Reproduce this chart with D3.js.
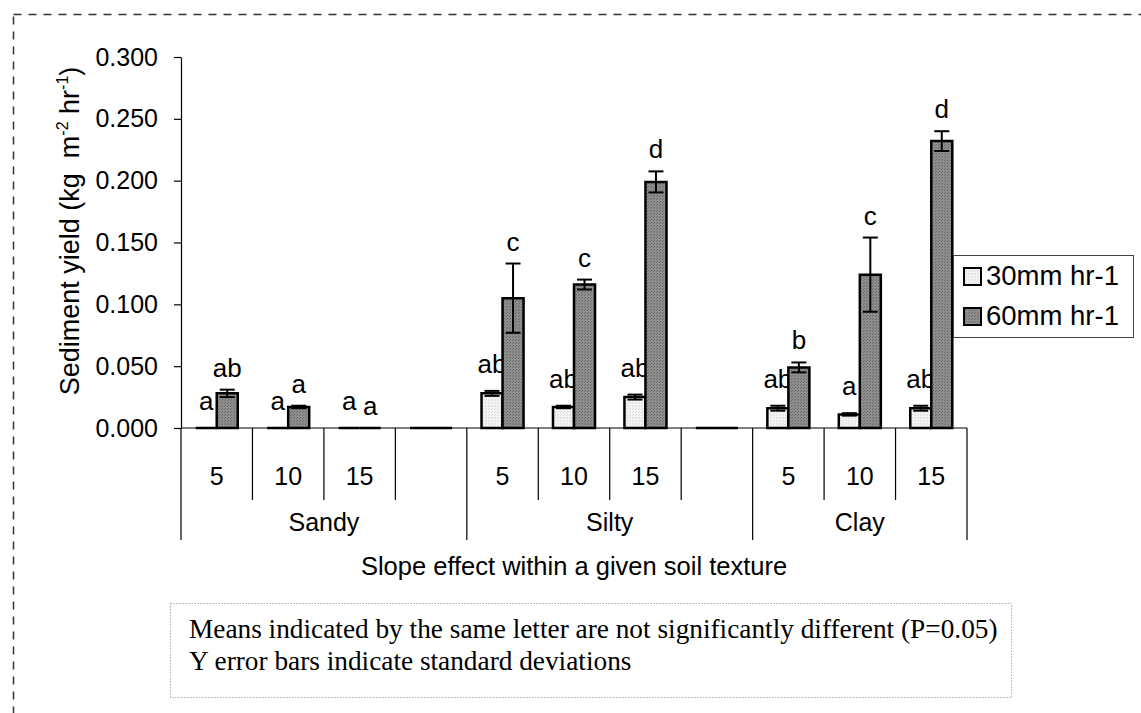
<!DOCTYPE html>
<html>
<head>
<meta charset="utf-8">
<script src="https://cdn.jsdelivr.net/npm/d3@7/dist/d3.min.js"></script>
<style>
  html, body { margin: 0; padding: 0; background: #fff; }
  svg { display: block; }
</style>
</head>
<body>
<svg id="chart" width="1141" height="713"></svg>
<script>
// ---------- data ----------
const textures   = ["Sandy", "Silty", "Clay"];
const textureOf  = ["Sandy","Sandy","Sandy","Sandy","Silty","Silty","Silty","Silty","Clay","Clay","Clay"];
const slopeLabels = ["5","10","15","","5","10","15","","5","10","15"];
const seriesNames = ["30mm hr-1", "60mm hr-1"];
const rain30   = [0, 0, 0, 0, 0.028, 0.017, 0.025, 0, 0.016, 0.011, 0.016];
const sd30     = [0, 0, 0, 0, 0.002, 0.001, 0.002, 0, 0.002, 0.001, 0.002];
const rain60   = [0.028, 0.017, 0, 0, 0.105, 0.116, 0.199, 0, 0.049, 0.124, 0.232];
const sd60     = [0.003, 0.001, 0, 0, 0.028, 0.004, 0.0085, 0, 0.004, 0.030, 0.008];
const letters30 = ["a","a","a","","ab","ab","ab","","ab","a","ab"];
const letters60 = ["ab","a","a","","c","c","d","","b","c","d"];
const yTicks = [0, 0.05, 0.10, 0.15, 0.20, 0.25, 0.30];
const footnotes = [
  "Means indicated by the same letter are not significantly different (P=0.05)",
  "Y error bars indicate standard deviations"
];

(function () {
// ---------- layout ----------
const svg = d3.select("#chart");
const pLeft = 181, pRight = 967, pTop = 57, pBottom = 428;
const FONT = "'Liberation Sans', Arial, sans-serif";

// patterns
const defs = svg.append("defs");
function dotPattern(id, base, dot) {
  const p = defs.append("pattern").attr("id", id).attr("patternUnits", "userSpaceOnUse")
    .attr("width", 3).attr("height", 3);
  p.append("rect").attr("width", 3).attr("height", 3).attr("fill", base);
  p.append("rect").attr("x", 0).attr("y", 0).attr("width", 1).attr("height", 1).attr("fill", dot);
  p.append("rect").attr("x", 2).attr("y", 1).attr("width", 1).attr("height", 1).attr("fill", dot);
}
dotPattern("pWhite", "#f4f4f4", "#d8d8d8");
dotPattern("pGray", "#8e8e8e", "#6a6a6a");
const fills = ["url(#pWhite)", "url(#pGray)"];

// outer dashed frame
svg.append("rect").attr("x", 13.5).attr("y", 14.5).attr("width", 1200).attr("height", 800)
  .attr("fill", "none").attr("stroke", "#333").attr("stroke-width", 1.5)
  .attr("stroke-dasharray", "8,7");

const x0 = d3.scaleBand().domain(d3.range(slopeLabels.length)).range([pLeft, pRight]).paddingInner(0).paddingOuter(0);
const x1 = d3.scaleBand().domain([0, 1]).range([0, x0.bandwidth()]).paddingInner(0).paddingOuter(0.7);
const y = d3.scaleLinear().domain([0, 0.3]).range([pBottom, pTop]);

// y axis
const yAxis = svg.append("g").attr("transform", `translate(${pLeft},0)`)
  .call(d3.axisLeft(y).tickValues(yTicks).tickFormat(d3.format(".3f")).tickSize(7).tickSizeOuter(0).tickPadding(16));
yAxis.select(".domain").attr("stroke", "#000").attr("stroke-width", 1.2);
yAxis.selectAll(".tick line").attr("stroke", "#000").attr("stroke-width", 1.2);
yAxis.selectAll(".tick text").attr("font-family", FONT).attr("font-size", 25).attr("fill", "#000");

// x axis line
svg.append("line").attr("x1", pLeft).attr("x2", pRight).attr("y1", pBottom).attr("y2", pBottom)
  .attr("stroke", "#000").attr("stroke-width", 1.2);

// category separators
const n = slopeLabels.length;
const groupStarts = d3.range(n).filter(i => i === 0 || textureOf[i] !== textureOf[i - 1]);
svg.append("g").selectAll("line").data(d3.range(n + 1)).join("line")
  .attr("x1", i => i < n ? x0(i) : pRight)
  .attr("x2", i => i < n ? x0(i) : pRight)
  .attr("y1", pBottom)
  .attr("y2", i => (groupStarts.includes(i) || i === n) ? 540 : 500)
  .attr("stroke", "#000").attr("stroke-width", 1.2);

// slope labels
svg.append("g").selectAll("text").data(slopeLabels).join("text")
  .attr("x", (d, i) => x0(i) + x0.bandwidth() / 2).attr("y", 485)
  .attr("text-anchor", "middle").attr("font-family", FONT).attr("font-size", 25)
  .text(d => d);

// texture labels
svg.append("g").selectAll("text").data(textures).join("text")
  .attr("x", t => {
    const idx = d3.range(n).filter(i => textureOf[i] === t);
    return (x0(idx[0]) + x0(idx[idx.length - 1]) + x0.bandwidth()) / 2;
  })
  .attr("y", 531).attr("text-anchor", "middle").attr("font-family", FONT).attr("font-size", 25)
  .text(t => t);

// x title
svg.append("text").attr("x", (pLeft + pRight) / 2).attr("y", 575).attr("text-anchor", "middle")
  .attr("font-family", FONT).attr("font-size", 25.5).text("Slope effect within a given soil texture");

// y title
const yt = svg.append("text").attr("transform", `translate(79,231) rotate(-90)`)
  .attr("text-anchor", "middle").attr("font-family", FONT).attr("font-size", 27);
yt.append("tspan").text("Sediment yield (kg\u00a0\u00a0m");
yt.append("tspan").attr("font-size", 16).attr("dy", -11).text("-2");
yt.append("tspan").attr("dy", 11).text(" hr");
yt.append("tspan").attr("font-size", 16).attr("dy", -11).text("-1");
yt.append("tspan").attr("dy", 11).text(")");

// bars
const series = [
  { vals: rain30, sds: sd30, letters: letters30, off: 18 },
  { vals: rain60, sds: sd60, letters: letters60, off: 13 }
];
series.forEach((s, k) => {
  const g = svg.append("g");
  const bx = i => x0(i) + x1(k);
  const bw = x1.bandwidth();
  g.selectAll("path.bar").data(s.vals).join("path").attr("class", "bar")
    .attr("d", (v, i) => `M${bx(i)},${y(0)}V${y(v)}H${bx(i) + bw}V${y(0)}Z`)
    .attr("fill", fills[k]).attr("stroke", "#000").attr("stroke-width", 2.5)
    .attr("stroke-linejoin", "miter");
  const eb = g.selectAll("g.err").data(s.vals.map((v, i) => ({ v, sd: s.sds[i], i })).filter(d => d.sd > 0))
    .join("g").attr("class", "err");
  const cx = d => bx(d.i) + bw / 2;
  eb.append("line").attr("x1", cx).attr("x2", cx).attr("y1", d => y(d.v - d.sd)).attr("y2", d => y(d.v + d.sd))
    .attr("stroke", "#000").attr("stroke-width", 2);
  [1, -1].forEach(sg => {
    eb.append("line").attr("x1", d => cx(d) - 7.5).attr("x2", d => cx(d) + 7.5)
      .attr("y1", d => y(d.v + sg * d.sd)).attr("y2", d => y(d.v + sg * d.sd))
      .attr("stroke", "#000").attr("stroke-width", 2);
  });
  g.selectAll("text").data(s.letters).join("text")
    .attr("x", (d, i) => bx(i) + bw / 2)
    .attr("y", (d, i) => y(s.vals[i] + s.sds[i]) - s.off)
    .attr("text-anchor", "middle").attr("font-family", FONT).attr("font-size", 26)
    .text(d => d);
});

// legend
const lg = svg.append("g");
lg.append("rect").attr("x", 953.5).attr("y", 255.5).attr("width", 180).attr("height", 82)
  .attr("fill", "#fff").attr("stroke", "#444").attr("stroke-width", 1);
seriesNames.forEach((nm, k) => {
  const cy = 276 + k * 40;
  lg.append("rect").attr("x", 964).attr("y", cy - 8).attr("width", 17).attr("height", 17)
    .attr("fill", fills[k]).attr("stroke", "#000").attr("stroke-width", 2);
  lg.append("text").attr("x", 986).attr("y", cy + 9).attr("font-family", FONT).attr("font-size", 27.5).text(nm);
});

// footnote box
svg.append("rect").attr("x", 170.5).attr("y", 603.5).attr("width", 841).attr("height", 94)
  .attr("fill", "#fff").attr("stroke", "#aaa").attr("stroke-width", 1).attr("stroke-dasharray", "1.5,1.5");
svg.append("g").selectAll("text").data(footnotes).join("text")
  .attr("x", 189).attr("y", (d, i) => 638 + i * 32)
  .attr("font-family", "'Liberation Serif', 'Times New Roman', serif").attr("font-size", 27.3)
  .text(d => d);
})();
</script>
</body>
</html>
